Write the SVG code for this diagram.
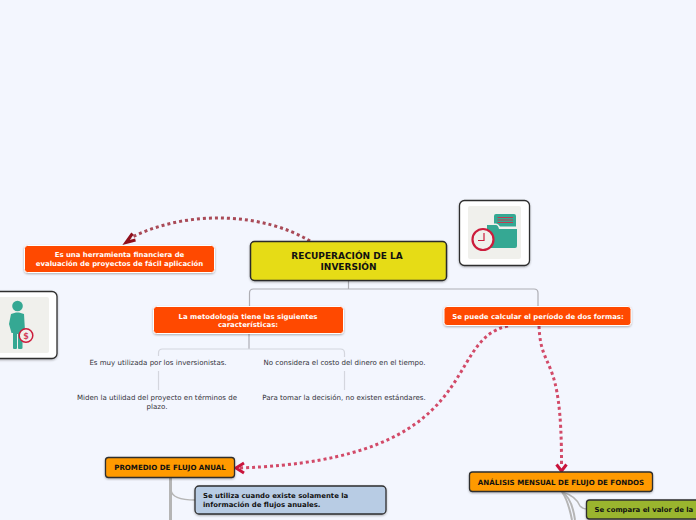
<svg xmlns="http://www.w3.org/2000/svg" width="696" height="520" viewBox="0 0 696 520">
<defs>
<style>
text{font-family:"DejaVu Sans",Verdana,sans-serif;text-anchor:middle}
.t{font-size:7.05px;fill:#33333b}
.w{font-size:6.92px;font-weight:bold;fill:#fff}
.b{font-size:7.08px;font-weight:bold;fill:#111}
.bs{font-size:6.92px;font-weight:bold;fill:#111;text-anchor:start}
.or{fill:#ff4800;stroke:#fff;stroke-width:1}
.dk{stroke:#2e2e2e;stroke-width:1.3}
.l1{fill:none;stroke:#aeaeb4;stroke-width:1.2}
.l2{fill:none;stroke:#d4d6de;stroke-width:1.2}
.g{fill:none;stroke:#b5b5b5}
.dot{fill:none;stroke-width:3;stroke-dasharray:3 3}
</style>
<filter id="s" x="-5%" y="-10%" width="110%" height="125%"><feDropShadow dx="0" dy="1" stdDeviation="0.8" flood-color="#000" flood-opacity=".3"/></filter>
</defs>
<rect width="696" height="520" fill="#f3f6fe"/>
<g id="connectors">
<path class="l1" d="M348.500 280V289M249.500 306V293Q249.500 289 253.500 289H534Q538 289 538 293V306"/>
<path class="l1" d="M249 334V349"/>
<path class="l2" d="M158.500 356V353Q158.500 349 162.500 349H340.500Q344.500 349 344.500 353V357"/>
<path class="l2" d="M158.500 371V390M344.500 371V390"/>
<path d="M170.500 478V520" fill="none" stroke="#b5b5b5" stroke-width="3"/>
<path class="g" stroke-width="1.500" d="M171 490Q172 500 195 500"/>
<path class="g" stroke-width="1.500" d="M562 492Q576 496 580 506Q583 509 587 509"/>
<path class="g" stroke-width="2" d="M562 492Q572 498 575 520"/>
<path class="g" stroke-width="2" d="M562 492Q568 500 572 520"/>
<path class="dot" stroke="#a94a57" d="M310 241C265 214 190 208 130 238"/>
<path d="M132.500 233.500L126 242.500L135.500 240" fill="none" stroke="#8f0f1c" stroke-width="3"/>
<path class="dot" stroke="#d24a68" d="M508 326C440 340 490 460 238 468"/>
<path d="M244 463L236 468L244 473" fill="none" stroke="#c9143c" stroke-width="3"/>
<path class="dot" stroke="#d24a68" d="M539 326C541 375 562 350 561.500 466"/>
<path d="M556.500 464.500L561.500 471L566.500 464.500" fill="none" stroke="#c9143c" stroke-width="3"/>
</g>
<g id="root"><rect x="250.500" y="241.500" width="196" height="39" rx="4" fill="#e6dc19" stroke="#2a2a2a" stroke-width="1.500" filter="url(#s)"/><text x="347" y="259" font-size="9" font-weight="bold" fill="#111">RECUPERACIÓN DE LA</text><text x="348.500" y="270" font-size="9" font-weight="bold" fill="#111">INVERSIÓN</text></g>
<g id="n-herramienta"><rect class="or" x="24.500" y="245.500" width="190" height="27" rx="3" filter="url(#s)"/><text class="w" x="119.500" y="257">Es una herramienta financiera de</text><text class="w" x="119.500" y="266">evaluación de proyectos de fácil aplicación</text></g>
<g id="n-metodologia"><rect class="or" x="153.500" y="306.500" width="190" height="27" rx="3" filter="url(#s)"/><text class="w" x="248" y="319">La metodología tiene las siguientes</text><text class="w" x="248" y="327">características:</text></g>
<g id="n-formas"><rect class="or" x="444" y="306.500" width="187" height="19" rx="3" filter="url(#s)"/><text class="w" x="538" y="319">Se puede calcular el período de dos formas:</text></g>
<g id="n-muy"><text class="t" x="158" y="365">Es muy utilizada por los inversionistas.</text></g>
<g id="n-costo"><text class="t" x="344.500" y="365">No considera el costo del dinero en el tiempo.</text></g>
<g id="n-miden"><text class="t" x="157" y="400">Miden la utilidad del proyecto en términos de</text><text class="t" x="157" y="409">plazo.</text></g>
<g id="n-decision"><text class="t" x="344" y="400">Para tomar la decisión, no existen estándares.</text></g>
<g id="n-promedio"><rect class="dk" x="105.500" y="457.500" width="129" height="20" rx="3" fill="#ff9a00" filter="url(#s)"/><text class="b" x="170" y="470">PROMEDIO DE FLUJO ANUAL</text></g>
<g id="n-analisis"><rect class="dk" x="469.500" y="472" width="183" height="19.500" rx="3" fill="#ff9a00" filter="url(#s)"/><text class="b" x="561" y="484.500">ANÁLISIS MENSUAL DE FLUJO DE FONDOS</text></g>
<g id="n-utiliza"><rect class="dk" x="195" y="486" width="191" height="28" rx="4" fill="#b8cce4" filter="url(#s)"/><text class="bs" x="203" y="498">Se utiliza cuando existe solamente la</text><text class="bs" x="203" y="507">información de flujos anuales.</text></g>
<g id="n-compara"><rect class="dk" x="586.500" y="500" width="130" height="19" rx="3" fill="#9ab52e" filter="url(#s)"/><text class="bs" x="594.500" y="512">Se compara el valor de la</text></g>
<g id="n-img-folder"><rect x="459.500" y="200.500" width="70" height="65" rx="5" fill="#fff" stroke="#2e2e2e" stroke-width="1.300" filter="url(#s)"/><rect x="468" y="206" width="53" height="53" rx="2" fill="#f0f0ec"/><path d="M487 225H496Q498 225 499 229H517V246Q517 248 515 248H487Z" fill="#35a893"/><path d="M496 214H514Q516 214 516 216V226.500H500Q498 223.500 496 223.500H494V216Q494 214 496 214Z" fill="#35a893"/><path d="M497.500 217.500H513M497.500 220H513M497.500 222.500H513" stroke="#c23a50" stroke-width="1"/><circle cx="483" cy="239.500" r="10.500" fill="#f0f0ec" stroke="#cc1c3c" stroke-width="2.200"/><path d="M484 233V240.500H478" fill="none" stroke="#cc1c3c" stroke-width="1.200"/></g>
<g id="n-img-man"><rect x="-14" y="291.500" width="71" height="67" rx="5" fill="#fff" stroke="#2e2e2e" stroke-width="1.300" filter="url(#s)"/><rect x="-4" y="297" width="53" height="56" rx="2" fill="#f0f0ec"/><circle cx="17.500" cy="306" r="5.300" fill="#35a893"/><path d="M11 314L16 312.500H19L24 314L25 331H22.500V348Q22.500 349 21 349H19Q18 349 18 348V334H17V348Q17 349 16 349H14Q13 349 13 348V333H11.500L9 324Z" fill="#35a893"/><circle cx="26" cy="335.500" r="6.800" fill="#f0f0ec" stroke="#cc1c3c" stroke-width="1.500"/><text x="26" y="338.500" font-size="8" font-weight="bold" fill="#d3405c">$</text></g>
</svg>
